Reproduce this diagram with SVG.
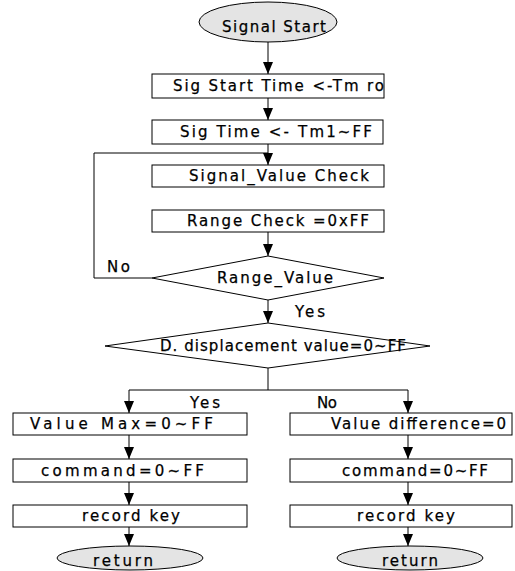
<svg xmlns="http://www.w3.org/2000/svg" width="515" height="571" viewBox="0 0 515 571">
<style>
.box{fill:#fff;stroke:#000;stroke-width:1}
.term{fill:#e4e4e4;stroke:#000;stroke-width:1}
.t{font-family:"DejaVu Sans","Liberation Sans",sans-serif;font-size:15px;fill:#000;stroke:#000;stroke-width:0.25}
.c{fill:none;stroke:#000;stroke-width:1}
.a{fill:none;stroke:#000;stroke-width:1;marker-end:url(#ah)}
</style>
<defs>
<marker id="ah" viewBox="0 0 12 10" refX="12" refY="5" markerWidth="12" markerHeight="10" markerUnits="userSpaceOnUse" orient="auto">
<path d="M0,0 L12,5 L0,10 z" fill="#000"/>
</marker>
</defs>
<rect width="515" height="571" fill="#fff"/>
<g id="connectors">
<line class="a" x1="268" y1="42" x2="268" y2="74"/>
<line class="a" x1="268" y1="98" x2="268" y2="120"/>
<line class="a" x1="268" y1="144" x2="268" y2="165"/>
<polyline class="c" points="152,278 94,278 94,153 268,153"/>
<line class="a" x1="268" y1="232" x2="268" y2="256"/>
<line class="a" x1="268" y1="300" x2="268" y2="323"/>
<polyline class="c" points="268,368 268,390"/>
<polyline class="a" points="268,390 129,390 129,413"/>
<polyline class="a" points="268,390 408,390 408,413"/>
<line class="a" x1="129" y1="435" x2="129" y2="459"/>
<line class="a" x1="129" y1="482" x2="129" y2="505"/>
<line class="a" x1="129" y1="527" x2="129" y2="546"/>
<line class="a" x1="408" y1="435" x2="408" y2="459"/>
<line class="a" x1="408" y1="482" x2="408" y2="505"/>
<line class="a" x1="408" y1="527" x2="408" y2="546"/>
<text class="t" x="107" y="272" textLength="23">No</text>
<text class="t" x="295" y="317" textLength="30">Yes</text>
<text class="t" x="190" y="408" textLength="30">Yes</text>
<text class="t" x="317" y="408" textLength="20">No</text>
</g>
<g id="start">
<ellipse class="term" cx="268" cy="22" rx="69" ry="20"/>
<text class="t" x="222" y="32" textLength="104">Signal Start</text>
</g>
<g id="sigStartTime">
<rect class="box" x="152" y="74" width="232" height="24"/>
<text class="t" x="173" y="91" textLength="211">Sig Start Time &lt;-Tm ro</text>
</g>
<g id="sigTime">
<rect class="box" x="152" y="120" width="231" height="24"/>
<text class="t" x="180" y="137" textLength="192">Sig Time &lt;- Tm1~FF</text>
</g>
<g id="signalValueCheck">
<rect class="box" x="152" y="165" width="232" height="22"/>
<text class="t" x="189" y="181" textLength="180">Signal_Value Check</text>
</g>
<g id="rangeCheck">
<rect class="box" x="152" y="210" width="232" height="22"/>
<text class="t" x="187" y="226" textLength="182">Range Check =0xFF</text>
</g>
<g id="rangeValue">
<polygon class="box" points="268,256 384,278 268,300 152,278"/>
<text class="t" x="217" y="283" textLength="116">Range_Value</text>
</g>
<g id="displacement">
<polygon class="box" points="268,323 430,346 268,368 105,346"/>
<text class="t" x="160" y="351" textLength="246">D. displacement value=0~FF</text>
</g>
<g id="valueMax">
<rect class="box" x="13" y="413" width="234" height="22"/>
<text class="t" x="30" y="429" textLength="183">Value Max=0~FF</text>
</g>
<g id="commandL">
<rect class="box" x="13" y="459" width="234" height="23"/>
<text class="t" x="41" y="476" textLength="163">command=0~FF</text>
</g>
<g id="recordKeyL">
<rect class="box" x="13" y="505" width="234" height="22"/>
<text class="t" x="82" y="521" textLength="98">record key</text>
</g>
<g id="returnL">
<ellipse class="term" cx="130" cy="558" rx="73" ry="12"/>
<text class="t" x="93" y="566" textLength="60">return</text>
</g>
<g id="valueDiff">
<rect class="box" x="290" y="413" width="222" height="22"/>
<text class="t" x="331" y="429" textLength="175">Value difference=0</text>
</g>
<g id="commandR">
<rect class="box" x="290" y="459" width="222" height="23"/>
<text class="t" x="342" y="476" textLength="146">command=0~FF</text>
</g>
<g id="recordKeyR">
<rect class="box" x="290" y="505" width="222" height="22"/>
<text class="t" x="357" y="521" textLength="98">record key</text>
</g>
<g id="returnR">
<ellipse class="term" cx="410" cy="558" rx="73" ry="12"/>
<text class="t" x="382" y="566" textLength="56">return</text>
</g>
</svg>
